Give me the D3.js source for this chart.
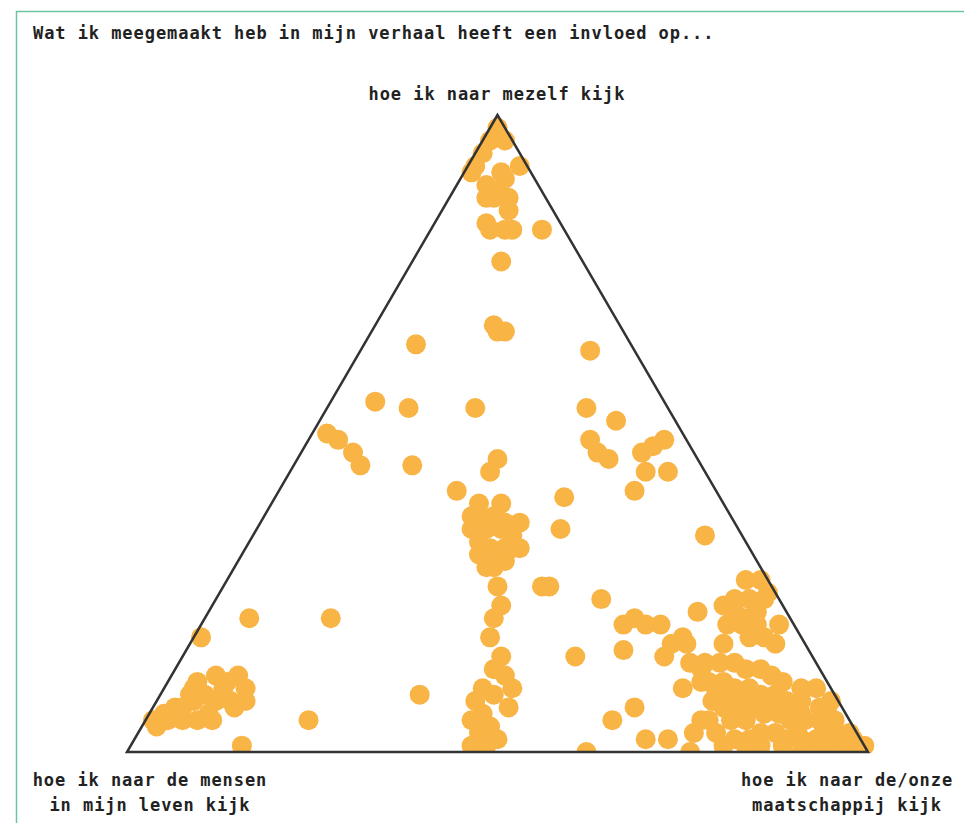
<!DOCTYPE html>
<html>
<head>
<meta charset="utf-8">
<script src="https://cdn.jsdelivr.net/npm/d3@7"></script>
<style>
  html, body { margin: 0; padding: 0; background: #fff; }
  svg { display: block; }
  text { font-family: "DejaVu Sans Mono", "Liberation Mono", monospace; fill: #222; }
</style>
</head>
<body>
<svg id="chart" width="964" height="823"></svg>
<script>
// Ternary shares (percent) per respondent
const mezelf = [98,96,96,94,92,91,92,91,90,89,88,87,87,87,85,83,82,82,82,82,77,67,66,66,64,63,55,54,54,50,49,47,45,45,41,46,44,54,52,49,47,46,49,48,47,44,44,41,40,35,34,39,39,37,37,36,35,35,35,34,33,32,32,31,31,32,29,26,26,26,23,21,18,15,13,12,10,10,9,8,7,6,5,4,3,2,1,1,9,15,0,21,21,18,12,12,10,11,9,7,6,5,8,9,8,5,8,7,6,5,5,5,1,10,10,24,22,21,20,20,20,16,18,17,17,15,14,13,11,10,8,5,7,2,2,3,0,1,27,27,24,24,25,22,21,22,20,18,17,17,23,20,14,14,14,13,13,12,11,10,10,11,11,10,10,9,9,8,8,7,7,7,7,6,6,5,5,4,3,3,5,3,3,2,2,1,1,1,0,2,2,8,0,0,1,2,5,5,
  37,36,29,30,32,9,9,8,8,7,7,6,5,5,2,7,3,2,1,1,1,3,5,18,20,20,24,11,7,5,8,4];
const maatschappij = [1,1,3,1,1,1,7,5,6,4,6,5,8,6,9,7,8,10,11,15,12,16,18,17,7,31,6,11,20,2,4,7,9,16,24,27,27,35,40,38,40,42,48,47,46,48,51,48,39,41,61,28,31,29,31,33,29,31,33,35,31,33,35,32,35,36,35,43,44,37,39,39,40,43,43,45,43,47,45,43,48,45,44,47,46,49,46,48,35,53,62,6,17,1,6,9,11,4,4,3,2,1,5,6,8,7,10,11,8,5,3,22,15,8,4,52,66,58,57,60,62,59,66,65,67,65,69,71,72,70,75,63,65,69,72,75,76,80,70,72,70,72,74,71,73,74,78,77,79,72,69,73,71,73,75,77,79,81,83,86,88,73,75,77,79,81,83,85,87,90,91,79,81,83,85,87,89,92,94,96,81,84,86,88,90,92,94,96,98,81,83,91,91,95,99,97,76,79,
  28,35,34,36,37,75,77,79,82,84,86,88,91,93,96,77,89,92,85,88,83,78,75,75,75,71,74,8,4,9,12,2];
const mensen = [1,3,1,5,7,8,1,4,4,7,6,8,5,7,6,10,10,8,7,3,11,17,16,17,29,6,39,35,26,48,47,46,46,39,35,27,29,11,8,13,13,12,3,5,7,8,5,11,21,24,5,33,30,34,32,31,36,34,32,31,36,35,33,37,34,32,36,31,30,37,38,40,42,42,44,43,47,43,46,49,45,49,51,49,51,49,53,51,56,32,38,73,62,81,82,79,79,85,87,90,92,94,87,85,84,88,82,82,86,90,92,73,84,82,86,24,12,21,23,20,18,25,16,18,16,20,17,16,17,20,17,32,28,29,26,22,24,19,3,1,6,4,1,7,6,4,2,5,4,11,8,7,15,13,11,10,8,7,6,4,2,16,14,13,11,10,8,7,5,3,2,14,12,11,9,8,6,4,3,1,14,13,11,10,8,7,5,3,2,17,15,1,9,5,0,1,19,16,
  35,29,37,34,31,16,14,13,10,9,7,6,4,2,2,16,8,6,14,11,16,19,20,7,5,9,2,81,89,86,80,94];

// Corner labels
const cornerTop = ["hoe ik naar mezelf kijk"];
const cornerLeft = ["hoe ik naar de mensen", "in mijn leven kijk"];
const cornerRight = ["hoe ik naar de/onze", "maatschappij kijk"];
const title = "Wat ik meegemaakt heb in mijn verhaal heeft een invloed op...";

const svg = d3.select("#chart");

// Frame (green)
svg.append("path")
  .attr("d", "M16.5,823 L16.5,11.5 L964,11.5")
  .attr("fill", "none")
  .attr("stroke", "#6cc5a0")
  .attr("stroke-width", 1.5);

const fontSize = 17;
const ls = 11.17 - fontSize * 0.602;

svg.append("text")
  .attr("x", 33).attr("y", 39)
  .attr("font-size", fontSize).attr("font-weight", "bold")
  .attr("letter-spacing", ls)
  .text(title);

// Ternary geometry
const xBase = d3.scaleLinear().domain([0, 100]).range([127, 868]);
const yScale = d3.scaleLinear().domain([0, 100]).range([752, 115]);
const px = (t, r) => xBase(r + t / 2);

const data = mezelf.map((t, i) => ({ t, r: maatschappij[i], l: mensen[i] }));

svg.append("defs").append("clipPath").attr("id", "clip")
  .append("rect").attr("x", 0).attr("y", 0).attr("width", 964).attr("height", 753);

svg.append("g").attr("clip-path", "url(#clip)")
  .selectAll("circle").data(data).join("circle")
  .attr("cx", d => px(d.t, d.r))
  .attr("cy", d => yScale(d.t))
  .attr("r", 10)
  .attr("fill", "#f9b446");

// Triangle
const corners = [[100, 0], [0, 0], [0, 100]]; // [t, r]: top, left, right
svg.append("path")
  .attr("d", d3.line()(corners.map(c => [px(c[0], c[1]), yScale(c[0])])) + "Z")
  .attr("fill", "none")
  .attr("stroke", "#333")
  .attr("stroke-width", 2.5)
  .attr("stroke-linejoin", "miter");

function label(lines, x, y0) {
  const t = svg.append("text")
    .attr("font-size", fontSize).attr("font-weight", "bold")
    .attr("letter-spacing", ls)
    .attr("text-anchor", "middle");
  lines.forEach((s, i) => {
    t.append("tspan").attr("x", x).attr("y", y0 + i * 25).text(s);
  });
}
label(cornerTop, 497, 100);
label(cornerLeft, 150, 786);
label(cornerRight, 847, 786);
</script>
</body>
</html>
